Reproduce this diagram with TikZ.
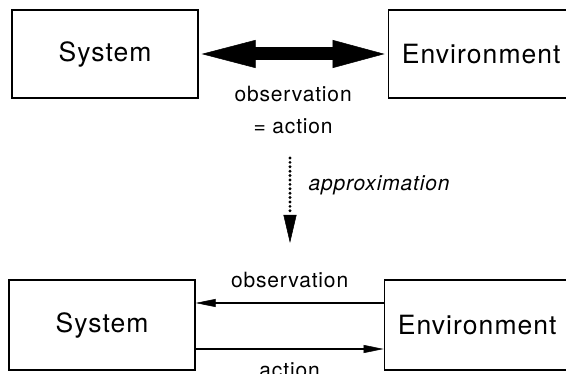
\documentclass[tikz,border=0pt]{standalone}
\usepackage{fontspec}
\setmainfont{TeX Gyre Heros}
\usepackage{xcolor}
\usepackage{tikz}
\usetikzlibrary{arrows.meta,positioning}

\begin{document}
\begin{tikzpicture}[x=1pt, y=-1pt,
    caja/.style={draw, line width=1.2pt, minimum width=186pt, inner sep=0pt,
      font=\fontsize{26.5}{30}\selectfont\addfontfeature{LetterSpace=4}},
    etiqueta/.style={inner sep=0pt, font=\fontsize{21}{32}\selectfont\addfontfeature{LetterSpace=4}},
    gruesa/.style={line width=13pt, shorten <=3pt, shorten >=3pt,
      {Triangle[length=54pt,width=28pt,line width=0.5pt]}-{Triangle[length=52pt,width=28pt,line width=0.5pt]}},
    fina/.style={line width=1.5pt, -{Triangle[length=20pt,width=8pt,line width=0.5pt]}},
    punteada/.style={line width=3.2pt, line cap=round, dash pattern=on 0pt off 4.4pt,
      -{Triangle[length=28pt,width=13pt,line width=0.5pt]}}]
  \useasboundingbox (0,0) rectangle (566,374);

  % Arriba
  \node[caja, minimum height=88pt] (sis1) at (105,54) {System};
  \node[caja, minimum height=88pt, right=189pt of sis1] (amb1) {Environment};
  \draw[gruesa] (sis1) -- node[etiqueta, below=26pt, align=center] {observation\\= action} (amb1);

  % Aproximacion
  \coordinate (arriba) at (290,158);
  \coordinate (abajo) at (290,243);
  \draw[punteada] (arriba) -- node[etiqueta, pos=0.32, right=17pt, font=\fontsize{21}{25}\selectfont\itshape\addfontfeature{LetterSpace=4}] {approximation} (abajo);

  % Abajo
  \node[caja, minimum height=90pt] (sis2) at (102,325) {System};
  \node[caja, minimum height=90pt, right=188pt of sis2] (amb2) {Environment};
  \draw[fina] ([yshift=22pt]amb2.west) -- node[etiqueta, above=14pt] {observation} ([yshift=22pt]sis2.east);
  \draw[fina] ([yshift=-24pt]sis2.east) -- node[etiqueta, below=13pt] {action} ([yshift=-24pt]amb2.west);
\end{tikzpicture}
\end{document}
